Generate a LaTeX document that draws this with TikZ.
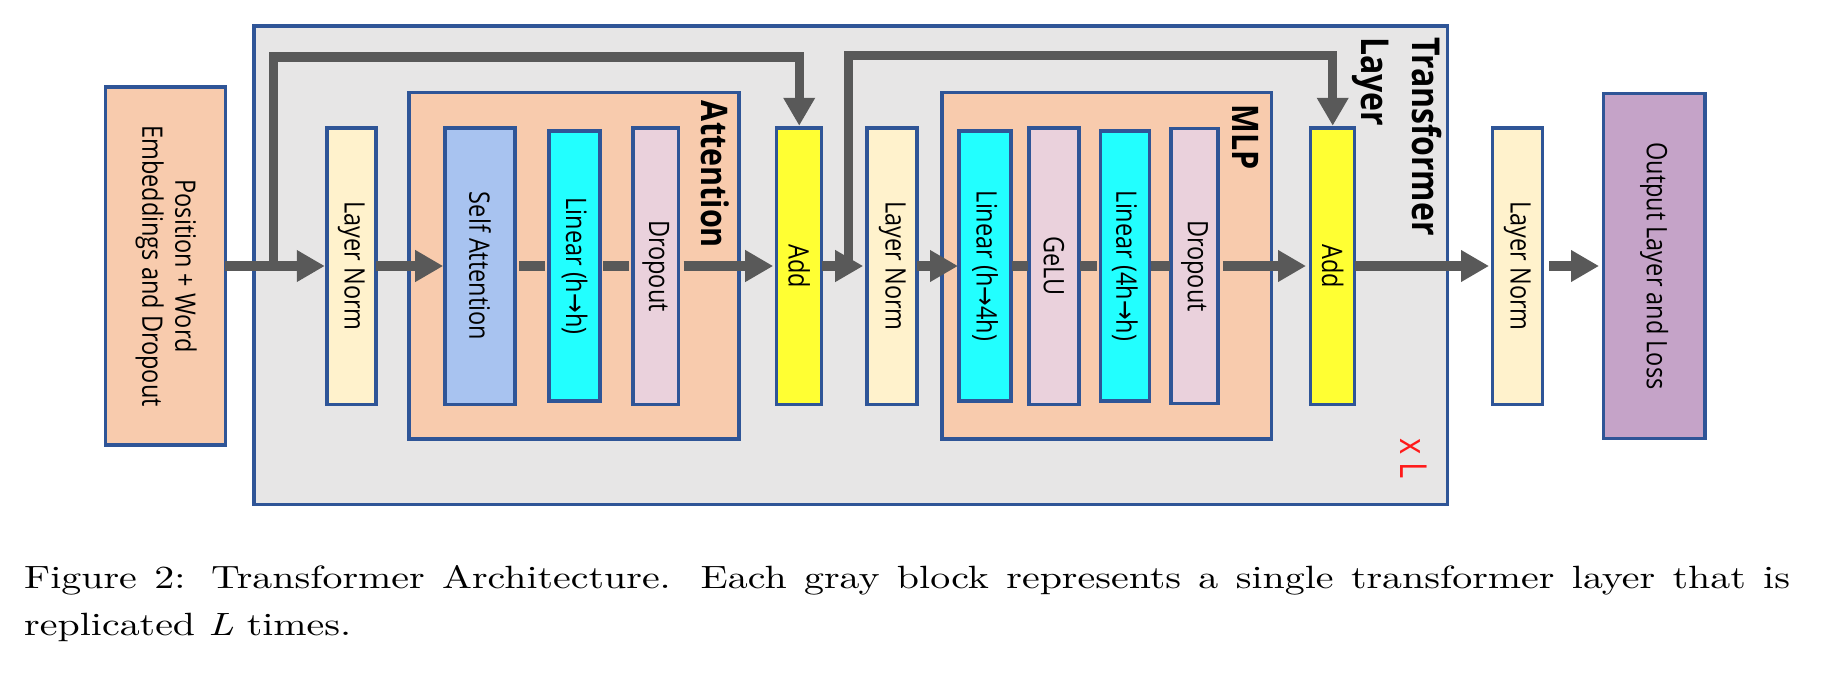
\documentclass[tikz,border=0pt]{standalone}
\usepackage{fontspec}
\usepackage{graphicx}
\usetikzlibrary{arrows.meta}
\newfontfamily\osans{Open Sans}
\newfontfamily\arrfont{DejaVu Sans}
\newfontfamily\capfont{lmroman10-regular.otf}[ItalicFont=lmroman10-italic.otf]
\definecolor{bordc}{HTML}{2F5597}
\definecolor{grayfill}{HTML}{E7E6E6}
\definecolor{peach}{HTML}{F8CBAD}
\definecolor{lnfill}{HTML}{FFF2CC}
\definecolor{safill}{HTML}{A8C3F0}
\definecolor{linfill}{HTML}{22FFFF}
\definecolor{dropfill}{HTML}{EAD1DC}
\definecolor{addfill}{HTML}{FFFF33}
\definecolor{outfill}{HTML}{C5A3C8}
\definecolor{arrc}{HTML}{595959}
\definecolor{redL}{HTML}{FF1A1A}
\newcommand{\vtxt}[1]{\scalebox{1.2}[1]{\rotatebox{-90}{#1}}}
\newcommand{\harr}{{\arrfont →}}
\begin{document}
\begin{tikzpicture}[x=1pt, y=-1pt,
  box/.style={draw=bordc, line width=3.5pt, inner sep=0pt, outer sep=0pt,
    font=\osans\fontsize{23.5}{27.5}\selectfont, align=center},
  flow/.style={draw=arrc, line width=9.3pt, line join=miter,
    -{Triangle[width=30pt,length=28pt]}, shorten >=2pt},
  link/.style={draw=arrc, line width=9.3pt},
  title/.style={font=\osans\bfseries\fontsize{30.5}{40}\selectfont,
    inner sep=0pt, xscale=1.2, rotate=-90}]
\useasboundingbox (0,0) rectangle (1844,678);

% transformer layer block
\node[box, fill=grayfill, minimum width=1193.5pt, minimum height=478.7pt] (tl) at (850.75,265.35) {};

% embeddings
\node[box, fill=peach, minimum width=119.7pt, minimum height=358.3pt] (emb) at (165.5,266)
  {\vtxt{\begin{tabular}{@{}c@{}}Position + Word\\Embeddings and Dropout\end{tabular}}};

% sub-blocks
\node[box, fill=peach, minimum width=329.8pt, minimum height=346.7pt] (att) at (573.9,265.7) {};
\node[box, fill=peach, minimum width=329.6pt, minimum height=346.7pt] (mlp) at (1106.6,265.7) {};

\node[box, fill=lnfill, minimum width=49.2pt, minimum height=276.5pt] (ln1) at (351.4,266) {\vtxt{Layer Norm}};
\node[box, fill=safill, minimum width=69.8pt, minimum height=276.5pt] (sa) at (480.1,266) {\vtxt{Self Attention}};
\node[box, fill=linfill, minimum width=51pt, minimum height=270pt] (lin1) at (574.5,266) {\vtxt{Linear (h\harr h)}};
\node[box, fill=dropfill, minimum width=45.4pt, minimum height=276.5pt] (drop1) at (655.9,266) {\vtxt{Dropout}};
\node[box, fill=addfill, minimum width=45pt, minimum height=276.5pt] (add1) at (799.2,266) {\vtxt{Add}};
\node[box, fill=lnfill, minimum width=50pt, minimum height=276.5pt] (ln2) at (892.2,266) {\vtxt{Layer Norm}};
\node[box, fill=linfill, minimum width=52pt, minimum height=270pt] (lin2) at (985,266) {\vtxt{Linear (h\harr 4h)}};
\node[box, fill=dropfill, minimum width=50pt, minimum height=276.5pt] (gelu) at (1054,266) {\vtxt{GeLU}};
\node[box, fill=linfill, minimum width=49.2pt, minimum height=270pt] (lin3) at (1124.9,266) {\vtxt{Linear (4h\harr h)}};
\node[box, fill=dropfill, minimum width=47.3pt, minimum height=275pt] (drop2) at (1194.5,266) {\vtxt{Dropout}};
\node[box, fill=addfill, minimum width=44pt, minimum height=276.5pt] (add2) at (1332.7,266) {\vtxt{Add}};
\node[box, fill=lnfill, minimum width=50pt, minimum height=276.5pt] (ln3) at (1517.4,266) {\vtxt{Layer Norm}};
\node[box, fill=outfill, minimum width=101.2pt, minimum height=345pt] (out) at (1654.2,266) {\vtxt{Output Layer and Loss}};

% labels
\node[title] (attl) at (715,174.5) {Attention};
\node[title] (mlpl) at (1246,137) {MLP};
\node[title, align=left, font=\osans\bfseries\fontsize{32}{42.5}\selectfont] (tll) at (1397,136.5) {Transformer\\Layer};
\node[font=\osans\fontsize{31}{36}\selectfont, text=redL, inner sep=0pt, xscale=1.2, rotate=-90] (xl) at (1414,458.5) {x L};

% main flow
\draw[flow] (emb.east) -- (ln1.west);
\draw[flow] (ln1.east) -- (sa.west);
\draw[link, shorten <=4pt, shorten >=4pt] (sa.east) -- (lin1.west);
\draw[link, shorten <=3pt, shorten >=4pt] (lin1.east) -- (drop1.west);
\draw[flow, shorten <=5pt, shorten >=3.5pt] (drop1.east) -- (add1.west);
\draw[flow, shorten >=4pt] (add1.east) -- (ln2.west);
\draw[flow, shorten >=1pt] (ln2.east) -- (lin2.west);
\draw[link, shorten <=1pt, shorten >=1pt] (lin2.east) -- (gelu.west);
\draw[link, shorten <=1pt, shorten >=3pt] (gelu.east) -- (lin3.west);
\draw[link, shorten <=1pt, shorten >=1pt] (lin3.east) -- (drop2.west);
\draw[flow, shorten <=4.7pt, shorten >=4.7pt] (drop2.east) -- (add2.west);
\draw[flow, shorten >=3.4pt] (add2.east) -- (ln3.west);
\draw[flow, shorten <=6.7pt, shorten >=4.6pt] (ln3.east) -- (out.west);

% residual connections
\coordinate (s1) at (273.5,270);
\coordinate (t1) at (273.5,57);
\draw[flow] (s1) -- (t1) -| (add1.north);
\coordinate (s2) at (848.7,270);
\coordinate (t2) at (848.7,55.5);
\draw[flow] (s2) -- (t2) -| (add2.north);

% caption
\node[anchor=base west, inner sep=0pt, xscale=1.24] (cap) at (24,588.7)
  {\parbox[t]{1424pt}{\capfont\fontsize{32.2}{46.3}\selectfont Figure 2: Transformer Architecture. Each gray block represents a single transformer layer that is\linebreak replicated \textit{L} times.}};
\end{tikzpicture}
\end{document}
